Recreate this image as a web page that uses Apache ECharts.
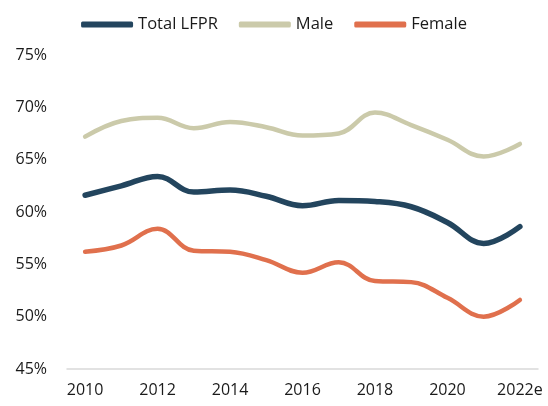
<!DOCTYPE html>
<html>
<head>
<meta charset="utf-8">
<script src="https://cdn.jsdelivr.net/npm/echarts@6/dist/echarts.min.js"></script>
<style>
  html, body { margin: 0; padding: 0; background: #fff; }
  #main { width: 548px; height: 406px; }
</style>
</head>
<body>
<div id="main"></div>
<script>
var years = ['2010', '2011', '2012', '2013', '2014', '2015', '2016', '2017', '2018', '2019', '2020', '2021', '2022e'];
var totalLfpr = [61.6, 62.5, 63.4, 61.9, 62.1, 61.5, 60.6, 61.1, 61.0, 60.5, 59.0, 57.0, 58.6];
var male = [67.2, 68.7, 69.0, 68.0, 68.6, 68.1, 67.3, 67.5, 69.5, 68.3, 66.9, 65.3, 66.5];
var female = [56.2, 56.8, 58.4, 56.3, 56.2, 55.4, 54.2, 55.2, 53.4, 53.3, 51.8, 50.0, 51.6];

var myChart = echarts.init(document.getElementById('main'));

var fontName = '"Open Sans", "Noto Sans", sans-serif';

var option = {
    animation: false,
    textStyle: { fontFamily: fontName },
    legend: {
        top: 11,
        left: 'center',
        itemWidth: 52,
        itemHeight: 6,
        itemGap: 21,
        icon: 'roundRect',
        textStyle: { fontSize: 16.5, color: '#1a1a1a', fontFamily: fontName },
        data: ['Total LFPR', 'Male', 'Female']
    },
    grid: { left: 67, right: 10, top: 55, bottom: 37 },
    xAxis: {
        type: 'category',
        data: years,
        boundaryGap: true,
        axisLine: { lineStyle: { color: '#d9d9d9', width: 1.5 } },
        axisTick: { show: false },
        axisLabel: {
            interval: 1,
            fontSize: 16,
            color: '#1a1a1a',
            margin: 13
        }
    },
    yAxis: {
        type: 'value',
        min: 45,
        max: 75,
        interval: 5,
        splitLine: { show: false },
        axisLine: { show: false },
        axisTick: { show: false },
        axisLabel: {
            fontSize: 16,
            color: '#1a1a1a',
            margin: 20,
            formatter: function (v) { return v + '%'; }
        }
    },
    series: [
        {
            name: 'Total LFPR',
            type: 'line',
            smooth: 0.4,
            symbol: 'none',
            data: totalLfpr,
            itemStyle: { color: '#23455e' },
            lineStyle: { color: '#23455e', width: 5.5, cap: 'round' },
            z: 3
        },
        {
            name: 'Male',
            type: 'line',
            smooth: 0.4,
            symbol: 'none',
            data: male,
            itemStyle: { color: '#cbcaaa' },
            lineStyle: { color: '#cbcaaa', width: 4.5, cap: 'round' }
        },
        {
            name: 'Female',
            type: 'line',
            smooth: 0.4,
            symbol: 'none',
            data: female,
            itemStyle: { color: '#e0704d' },
            lineStyle: { color: '#e0704d', width: 4.5, cap: 'round' }
        }
    ]
};

myChart.setOption(option);
</script>
</body>
</html>
